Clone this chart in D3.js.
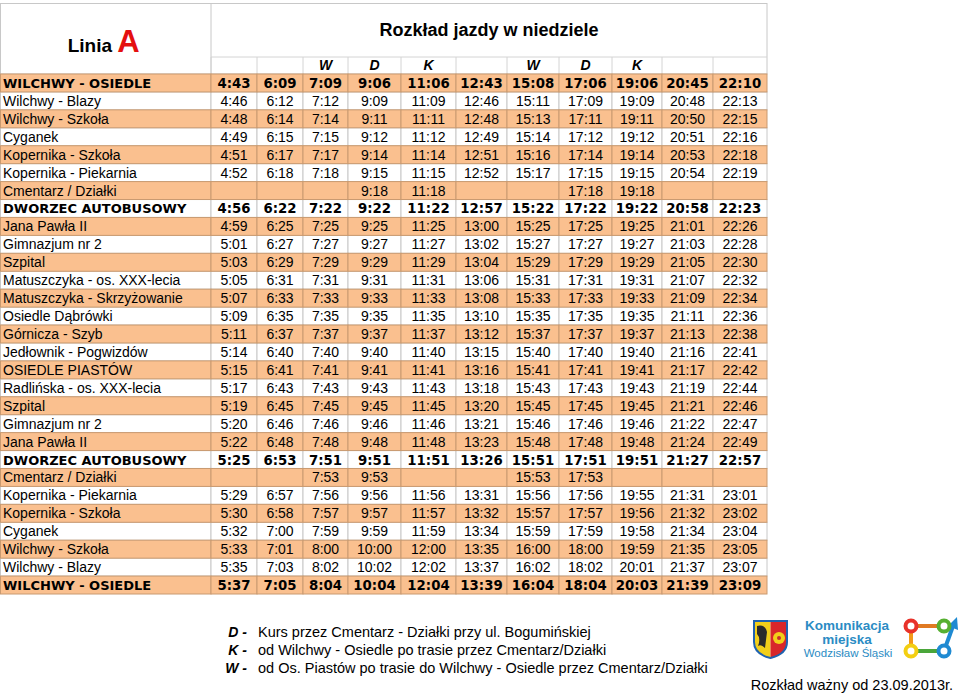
<!DOCTYPE html>
<html>
<head>
<meta charset="utf-8">
<script src="https://cdn.jsdelivr.net/npm/d3@7"></script>
<style>
  body { margin: 0; background: #fff; }
  svg text { font-family: "Liberation Sans", Arial, sans-serif; }
</style>
</head>
<body>
<div id="chart"></div>
<script>
// stops along the route, top to bottom
var stops = ["WILCHWY - OSIEDLE", "Wilchwy - Blazy", "Wilchwy - Szkoła", "Cyganek", "Kopernika - Szkoła",
	"Kopernika - Piekarnia", "Cmentarz / Działki", "DWORZEC AUTOBUSOWY", "Jana Pawła II", "Gimnazjum nr 2",
	"Szpital", "Matuszczyka - os. XXX-lecia", "Matuszczyka - Skrzyżowanie", "Osiedle Dąbrówki", "Górnicza - Szyb",
	"Jedłownik - Pogwizdów", "OSIEDLE PIASTÓW", "Radlińska - os. XXX-lecia", "Szpital", "Gimnazjum nr 2",
	"Jana Pawła II", "DWORZEC AUTOBUSOWY", "Cmentarz / Działki", "Kopernika - Piekarnia", "Kopernika - Szkoła",
	"Cyganek", "Wilchwy - Szkoła", "Wilchwy - Blazy", "WILCHWY - OSIEDLE"];
var boldStops = [0, 7, 21, 28];

// course markers above each column
var courseMarks = ["", "", "W", "D", "K", "", "W", "D", "K", "", ""];

// departure times, one row per stop
var times = [
	["4:43","6:09","7:09","9:06","11:06","12:43","15:08","17:06","19:06","20:45","22:10"],
	["4:46","6:12","7:12","9:09","11:09","12:46","15:11","17:09","19:09","20:48","22:13"],
	["4:48","6:14","7:14","9:11","11:11","12:48","15:13","17:11","19:11","20:50","22:15"],
	["4:49","6:15","7:15","9:12","11:12","12:49","15:14","17:12","19:12","20:51","22:16"],
	["4:51","6:17","7:17","9:14","11:14","12:51","15:16","17:14","19:14","20:53","22:18"],
	["4:52","6:18","7:18","9:15","11:15","12:52","15:17","17:15","19:15","20:54","22:19"],
	["","","","9:18","11:18","","","17:18","19:18","",""],
	["4:56","6:22","7:22","9:22","11:22","12:57","15:22","17:22","19:22","20:58","22:23"],
	["4:59","6:25","7:25","9:25","11:25","13:00","15:25","17:25","19:25","21:01","22:26"],
	["5:01","6:27","7:27","9:27","11:27","13:02","15:27","17:27","19:27","21:03","22:28"],
	["5:03","6:29","7:29","9:29","11:29","13:04","15:29","17:29","19:29","21:05","22:30"],
	["5:05","6:31","7:31","9:31","11:31","13:06","15:31","17:31","19:31","21:07","22:32"],
	["5:07","6:33","7:33","9:33","11:33","13:08","15:33","17:33","19:33","21:09","22:34"],
	["5:09","6:35","7:35","9:35","11:35","13:10","15:35","17:35","19:35","21:11","22:36"],
	["5:11","6:37","7:37","9:37","11:37","13:12","15:37","17:37","19:37","21:13","22:38"],
	["5:14","6:40","7:40","9:40","11:40","13:15","15:40","17:40","19:40","21:16","22:41"],
	["5:15","6:41","7:41","9:41","11:41","13:16","15:41","17:41","19:41","21:17","22:42"],
	["5:17","6:43","7:43","9:43","11:43","13:18","15:43","17:43","19:43","21:19","22:44"],
	["5:19","6:45","7:45","9:45","11:45","13:20","15:45","17:45","19:45","21:21","22:46"],
	["5:20","6:46","7:46","9:46","11:46","13:21","15:46","17:46","19:46","21:22","22:47"],
	["5:22","6:48","7:48","9:48","11:48","13:23","15:48","17:48","19:48","21:24","22:49"],
	["5:25","6:53","7:51","9:51","11:51","13:26","15:51","17:51","19:51","21:27","22:57"],
	["","","7:53","9:53","","","15:53","17:53","","",""],
	["5:29","6:57","7:56","9:56","11:56","13:31","15:56","17:56","19:55","21:31","23:01"],
	["5:30","6:58","7:57","9:57","11:57","13:32","15:57","17:57","19:56","21:32","23:02"],
	["5:32","7:00","7:59","9:59","11:59","13:34","15:59","17:59","19:58","21:34","23:04"],
	["5:33","7:01","8:00","10:00","12:00","13:35","16:00","18:00","19:59","21:35","23:05"],
	["5:35","7:03","8:02","10:02","12:02","13:37","16:02","18:02","20:01","21:37","23:07"],
	["5:37","7:05","8:04","10:04","12:04","13:39","16:04","18:04","20:03","21:39","23:09"]
];

var legendKeys = ["D -", "K -", "W -"];
var legendTexts = ["Kurs przez Cmentarz - Działki przy ul. Bogumińskiej",
	"od Wilchwy - Osiedle po trasie przez Cmentarz/Działki",
	"od Os. Piastów po trasie do Wilchwy - Osiedle przez Cmentarz/Działki"];

var width = 959, height = 693;
var orange = "#fac08f";
var svg = d3.select("#chart").append("svg").attr("width", width).attr("height", height);

// column edges: name column then 11 course columns
var colEdges = [0.5, 211, 257, 303, 348, 401, 456, 507, 559, 612, 662, 713, 767];
var x = d3.scaleLinear().domain(d3.range(colEdges.length)).range(colEdges);
var y = d3.scaleBand().domain(d3.range(stops.length)).range([74, 594]);
var headTop = 3.5, markTop = 57;

// header block
svg.append("rect").attr("x", x(0)).attr("y", headTop).attr("width", x(12) - x(0)).attr("height", 74 - headTop)
	.style("fill", "#fff").style("stroke", "#c8c8c8");
svg.append("line").attr("x1", x(1)).attr("x2", x(1)).attr("y1", headTop).attr("y2", 74).style("stroke", "#c8c8c8");
svg.append("line").attr("x1", x(1)).attr("x2", x(12)).attr("y1", markTop).attr("y2", markTop).style("stroke", "#d4d4d4");
for (var c = 1; c < 12; c++) {
	svg.append("line").attr("x1", x(c)).attr("x2", x(c)).attr("y1", markTop).attr("y2", 74).style("stroke", "#d4d4d4");
}

var title = svg.append("text").attr("x", (x(0) + x(1)) / 2 - 2).attr("y", 52)
	.style("text-anchor", "middle").style("font-weight", "bold");
title.append("tspan").style("font-size", "19px").text("Linia ");
title.append("tspan").style("font-size", "31px").style("fill", "#e41010").text("A");

svg.append("text").attr("x", (x(1) + x(12)) / 2).attr("y", 36)
	.style("text-anchor", "middle").style("font-weight", "bold").style("font-size", "18px")
	.text("Rozkład jazdy w niedziele");

svg.selectAll("text.mark").data(courseMarks).enter().append("text")
	.attr("class", "mark")
	.attr("x", function(d, i) { return (x(i + 1) + x(i + 2)) / 2; })
	.attr("y", 70)
	.style("text-anchor", "middle").style("font-weight", "bold").style("font-style", "italic").style("font-size", "14px")
	.text(function(d) { return d; });

// row backgrounds, white rows first so orange borders sit on top
var order = d3.range(stops.length).sort(function(a, b) { return (a % 2 == 0) - (b % 2 == 0); });
order.forEach(function(r) {
	var isOrange = r % 2 == 0;
	for (var c = 0; c < 12; c++) {
		svg.append("rect")
			.attr("x", x(c)).attr("y", y(r))
			.attr("width", x(c + 1) - x(c)).attr("height", y.bandwidth())
			.style("fill", isOrange ? orange : "#fff")
			.style("stroke", isOrange ? "#c99a70" : "#c8c8c8")
			.style("stroke-width", 1);
	}
});

// stop names and times
stops.forEach(function(name, r) {
	var bold = boldStops.indexOf(r) >= 0;
	var base = y(r) + y.bandwidth() / 2 + 5;
	svg.append("text").attr("x", 3).attr("y", base)
		.style("font-family", bold ? "'DejaVu Sans', sans-serif" : null)
		.style("font-weight", bold ? "bold" : "normal")
		.style("font-size", bold ? "13px" : "14px")
		.text(name);
	times[r].forEach(function(t, c) {
		svg.append("text")
			.attr("x", (x(c + 1) + x(c + 2)) / 2).attr("y", base)
			.style("text-anchor", "middle")
			.style("font-family", bold ? "'DejaVu Sans', sans-serif" : null)
			.style("font-weight", bold ? "bold" : "normal")
			.style("font-size", bold ? "13.3px" : "14px")
			.text(t);
	});
});

// legend
legendKeys.forEach(function(k, i) {
	var ly = 637 + i * 18;
	svg.append("text").attr("x", 247).attr("y", ly).style("text-anchor", "end")
		.style("font-weight", "bold").style("font-style", "italic").style("font-size", "14px").text(k);
	svg.append("text").attr("x", 258).attr("y", ly).style("font-size", "14.5px").text(legendTexts[i]);
});

// logo: coat of arms
var logo = svg.append("g").attr("transform", "translate(753,620)");
var shield = "M1,1 H34 V22 Q34,34 17.5,38 Q1,34 1,22 Z";
logo.append("clipPath").attr("id", "sh").append("path").attr("d", shield);
var arms = logo.append("g").attr("clip-path", "url(#sh)");
arms.append("rect").attr("x", 0).attr("y", 0).attr("width", 17.5).attr("height", 40).style("fill", "#f2cf1a");
arms.append("rect").attr("x", 17.5).attr("y", 0).attr("width", 18).attr("height", 40).style("fill", "#d8262b");
arms.append("path").attr("d", "M4,6 Q12,4 14,12 L12,28 Q8,24 5,26 Q8,18 4,14 Z").style("fill", "#2b2b2b");
arms.append("circle").attr("cx", 26).attr("cy", 18).attr("r", 6).style("fill", "#f2cf1a");
arms.append("circle").attr("cx", 26).attr("cy", 18).attr("r", 2).style("fill", "#c9302c");
logo.append("path").attr("d", shield).style("fill", "none").style("stroke", "#1f62b0").style("stroke-width", 2);

var blue = "#2b8cc4";
svg.append("text").attr("x", 847).attr("y", 630).style("text-anchor", "middle").style("fill", blue)
	.style("font-weight", "bold").style("font-size", "13.5px").text("Komunikacja");
svg.append("text").attr("x", 847).attr("y", 644).style("text-anchor", "middle").style("fill", blue)
	.style("font-weight", "bold").style("font-size", "13.5px").text("miejska");
svg.append("text").attr("x", 848).attr("y", 657).style("text-anchor", "middle").style("fill", blue)
	.style("font-size", "11.5px").text("Wodzisław Śląski");

// logo: connected nodes
var nodes = [{x: 911, y: 626, c: "#e8322a"}, {x: 944, y: 626, c: "#56b031"},
	{x: 911, y: 651, c: "#f3cf12"}, {x: 944, y: 651, c: "#1f8ad2"}];
var links = [[0, 1, "#e07a22"], [0, 2, "#f39a1a"], [2, 3, "#4aa63a"]];
links.forEach(function(l) {
	svg.append("line").attr("x1", nodes[l[0]].x).attr("y1", nodes[l[0]].y)
		.attr("x2", nodes[l[1]].x).attr("y2", nodes[l[1]].y)
		.style("stroke", l[2]).style("stroke-width", 4);
});
svg.append("line").attr("x1", 944).attr("y1", 651).attr("x2", 953).attr("y2", 626)
	.style("stroke", "#1f8ad2").style("stroke-width", 4);
svg.append("path").attr("d", "M948,626 L957,617 L958,630 Z").style("fill", "#1f8ad2");
nodes.forEach(function(n) {
	svg.append("circle").attr("cx", n.x).attr("cy", n.y).attr("r", 5.5)
		.style("fill", "#fff").style("stroke", n.c).style("stroke-width", 4);
});

svg.append("text").attr("x", 953).attr("y", 690).style("text-anchor", "end").style("font-size", "14.5px")
	.text("Rozkład ważny od 23.09.2013r.");
</script>
</body>
</html>
